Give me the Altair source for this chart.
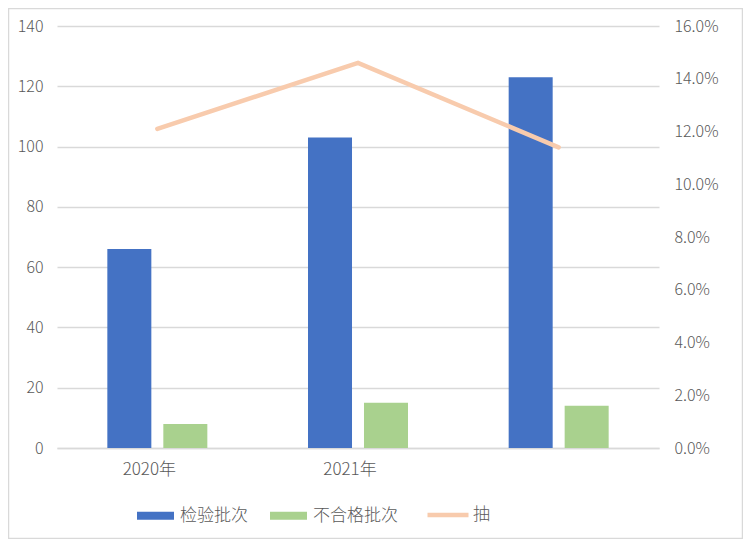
import altair as alt
import pandas as pd

categories = ["2020年", "2021年", " "]
inspected = [66, 103, 123]
unqualified = [8, 15, 14]
rate = [0.121, 0.146, 0.114]
series_names = ["检验批次", "不合格批次"]
line_name = "抽"

bars_df = pd.DataFrame({
    "cat": categories * 2,
    "series": [series_names[0]] * 3 + [series_names[1]] * 3,
    "value": inspected + unqualified,
})
line_df = pd.DataFrame({"cat": categories, "rate": rate, "name": [line_name] * 3})
frame_df = pd.DataFrame({"k": [0]})

FONT = "Noto Sans CJK SC"
GRAY = "#595959"
GRID = "#d9d9d9"

x_enc = alt.X(
    "cat:N", sort=categories,
    scale=alt.Scale(paddingInner=0, paddingOuter=0),
    axis=alt.Axis(title=None, labelAngle=0, domain=True, domainColor=GRID, domainWidth=1.5,
                  ticks=False, labelFontSize=17, labelColor=GRAY, labelPadding=13,
                  labelOffset=-8, labelFont=FONT, labelFontWeight=300),
)

frame = alt.Chart(frame_df).mark_rect(fill=None, stroke=GRID, strokeWidth=1.5).encode(
    x=alt.value(-48.5), x2=alt.value(685.5), y=alt.value(-17.5), y2=alt.value(512.5)
)

bars = alt.Chart(bars_df).mark_bar().encode(
    x=x_enc,
    xOffset=alt.XOffset("series:N", sort=series_names,
                        scale=alt.Scale(paddingInner=0.214, paddingOuter=0.899)),
    y=alt.Y("value:Q", scale=alt.Scale(domain=[0, 140]),
            axis=alt.Axis(values=list(range(0, 141, 20)), title=None, grid=True,
                          gridColor=GRID, gridWidth=1.5, domain=False, ticks=False,
                          labelPadding=14, labelFontSize=16, labelColor=GRAY, labelFont=FONT,
                          labelFontWeight=300)),
    color=alt.Color("series:N", sort=series_names,
                    scale=alt.Scale(domain=series_names, range=["#4472C4", "#A9D18E"]),
                    legend=alt.Legend(orient="none", legendX=80, legendY=471, direction="horizontal",
                                      title=None, symbolType="M-1,-0.216H1V0.216H-1Z",
                                      symbolSize=1369, symbolStrokeWidth=0, labelFontSize=17,
                                      labelColor=GRAY, labelFont=FONT, labelFontWeight=300,
                                      labelOffset=6, columnPadding=22, padding=0)),
)

line = alt.Chart(line_df).mark_line(strokeWidth=4.5, strokeCap="round").encode(
    x=x_enc,
    y=alt.Y("rate:Q", scale=alt.Scale(domain=[0, 0.16]),
            axis=alt.Axis(orient="right", values=[i * 0.02 for i in range(9)], format=".1%",
                          title=None, grid=False, domain=False, ticks=False, labelPadding=15,
                          labelFontSize=16, labelColor=GRAY, labelFont=FONT,
                          labelFontWeight=300)),
    stroke=alt.Stroke("name:N", scale=alt.Scale(range=["#F8CBAD"]),
                      legend=alt.Legend(orient="none", legendX=368, legendY=466, title=None,
                                        symbolType="stroke", symbolSize=1681, symbolStrokeWidth=4.5,
                                        labelFontSize=17, labelColor=GRAY, labelFont=FONT,
                                        labelFontWeight=300, labelOffset=2, padding=0)),
)

chart = alt.layer(frame, bars, line).resolve_scale(
    y="independent", color="independent", stroke="independent"
).properties(
    width=602, height=422,
    autosize=alt.AutoSizeParams(type="none"),
    padding={"left": 49, "top": 18, "right": 84, "bottom": 91},
).configure_view(stroke=None)

chart.save("out.html", embed_options={"renderer": "svg", "actions": False})
